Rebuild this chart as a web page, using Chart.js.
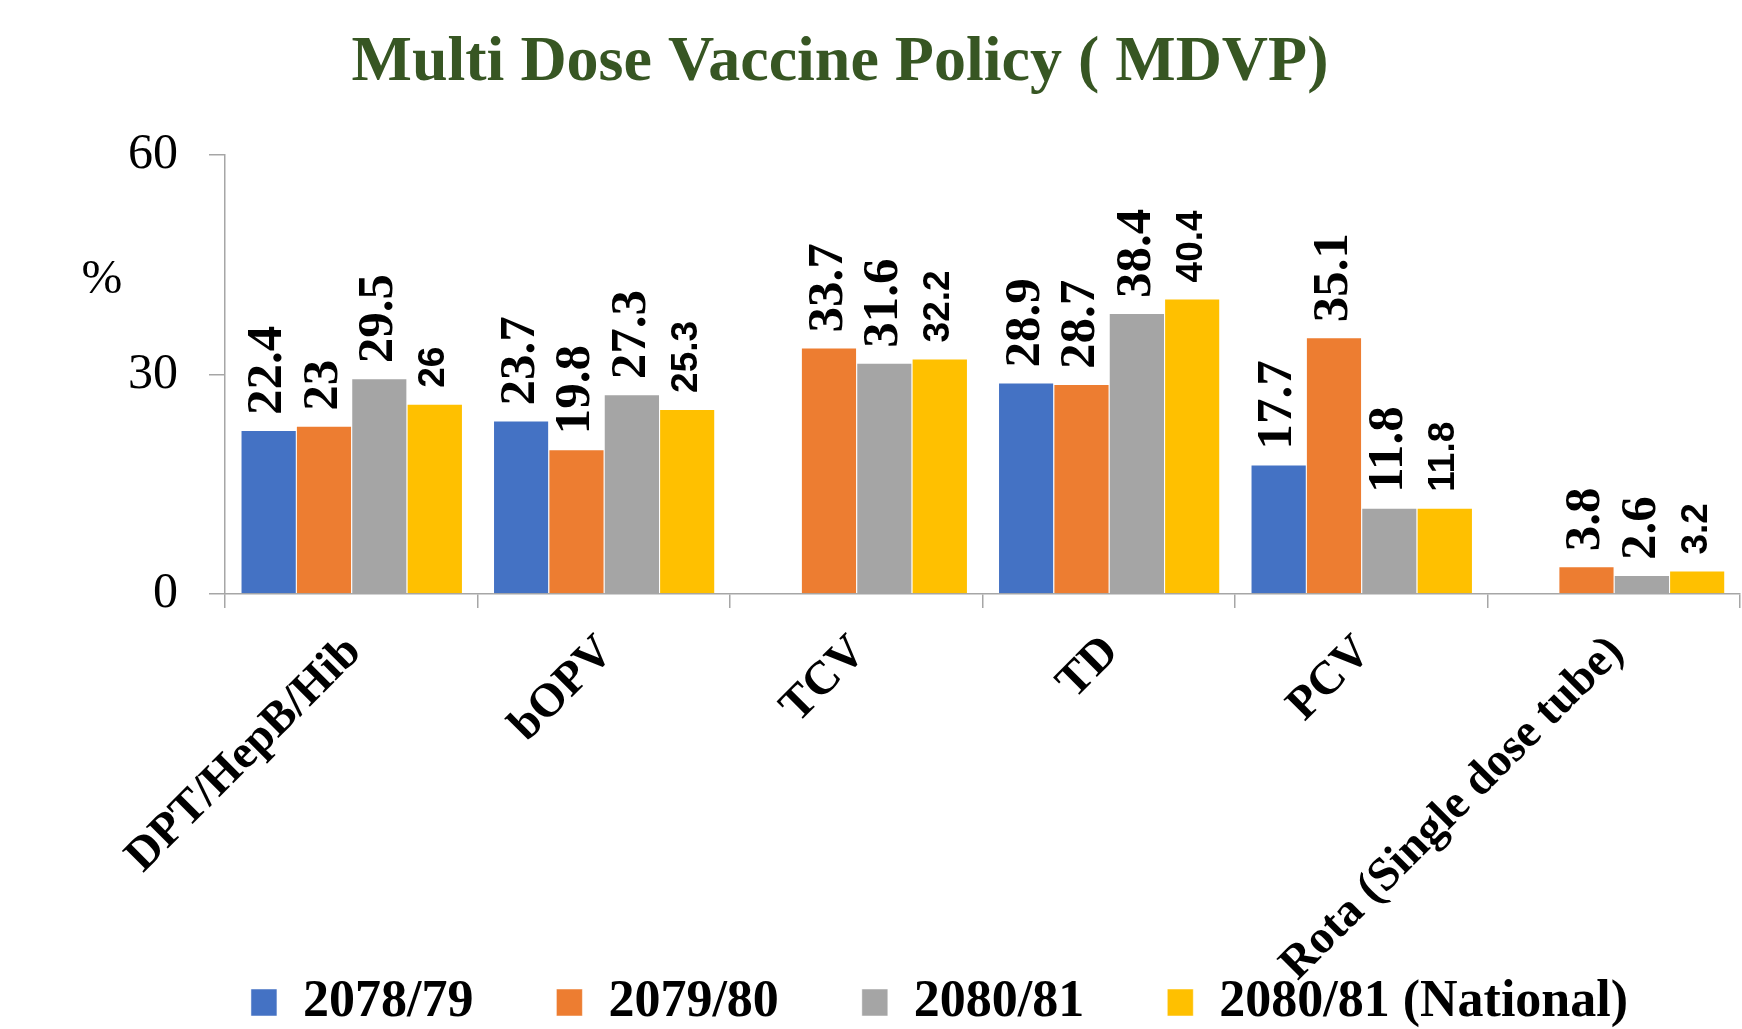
<!DOCTYPE html>
<html>
<head>
<meta charset="utf-8">
<script src="https://cdn.jsdelivr.net/npm/chart.js@4.4.1/dist/chart.umd.min.js"></script>
<style>
html,body{margin:0;padding:0;background:#fff;}
#wrap{width:1742px;height:1029px;}
canvas{display:block;}
</style>
</head>
<body>
<div id="wrap"><canvas id="c" width="1742" height="1029"></canvas></div>
<script>
const chartTitle = 'Multi Dose Vaccine Policy ( MDVP)';
const yAxisLabel = '%';
const categories = ['DPT/HepB/Hib', 'bOPV', 'TCV', 'TD', 'PCV', 'Rota (Single dose tube)'];
const seriesNames = ['2078/79', '2079/80', '2080/81', '2080/81 (National)'];
const s2078_79 = [22.4, 23.7, null, 28.9, 17.7, null];
const s2079_80 = [23, 19.8, 33.7, 28.7, 35.1, 3.8];
const s2080_81 = [29.5, 27.3, 31.6, 38.4, 11.8, 2.6];
const s2080_81nat = [26, 25.3, 32.2, 40.4, 11.8, 3.2];
const yTicks = [0, 30, 60];

const seriesColors = ['#4472C4', '#ED7D31', '#A5A5A5', '#FFC000'];
const serif = "'Liberation Serif', 'Times New Roman', serif";
const sans = "'Liberation Sans', Arial, sans-serif";
const labelFonts = ['bold 51px ' + serif, 'bold 51px ' + serif, 'bold 51px ' + serif, 'bold 37px ' + sans];
const labelGaps = [15, 15, 15, 16];

const seriesData = [s2078_79, s2079_80, s2080_81, s2080_81nat];

const datasets = seriesData.map((d, i) => ({
  label: seriesNames[i],
  data: d,
  backgroundColor: seriesColors[i],
  borderColor: '#ffffff',
  borderWidth: {top: 1, left: 1, right: 0, bottom: 0},
  categoryPercentage: 0.877,
  barPercentage: 1.0,
  labelFont: labelFonts[i],
  labelGap: labelGaps[i]
}));

const barLabels = {
  id: 'barLabels',
  afterDatasetsDraw(chart) {
    const ctx = chart.ctx;
    chart.data.datasets.forEach((ds, di) => {
      const meta = chart.getDatasetMeta(di);
      meta.data.forEach((bar, i) => {
        const v = ds.data[i];
        if (v === null || v === undefined) return;
        ctx.save();
        ctx.translate(bar.x, bar.y - ds.labelGap);
        ctx.rotate(-Math.PI / 2);
        ctx.font = ds.labelFont;
        ctx.fillStyle = '#000';
        ctx.textAlign = 'left';
        ctx.textBaseline = 'middle';
        ctx.fillText(String(v), 0, 0);
        ctx.restore();
      });
    });
  }
};

const catLabels = {
  id: 'catLabels',
  afterDraw(chart) {
    const xs = chart.scales.x;
    const ctx = chart.ctx;
    categories.forEach((c, i) => {
      ctx.save();
      ctx.font = 'bold 47px ' + serif;
      ctx.fillStyle = '#000';
      ctx.textAlign = 'right';
      ctx.textBaseline = 'middle';
      ctx.translate(xs.getPixelForValue(i) + 3, xs.top + 51);
      ctx.rotate(-Math.PI / 4);
      ctx.fillText(c, 0, 0);
      ctx.restore();
    });
  }
};

const percentLabel = {
  id: 'percentLabel',
  afterDraw(chart) {
    const ctx = chart.ctx;
    const a = chart.chartArea;
    ctx.save();
    ctx.font = '49px ' + serif;
    ctx.fillStyle = '#000';
    ctx.textAlign = 'center';
    ctx.textBaseline = 'middle';
    ctx.fillText(yAxisLabel, a.left - 123, a.top + 125);
    ctx.restore();
  }
};

const blockShift = {
  id: 'blockShift',
  afterLayout(chart) {
    const t = chart.titleBlock;
    if (t) { t.left -= 94; t.right -= 94; }
    const l = chart.legend;
    if (l) { l.left += 5.5; l.right += 5.5; }
  }
};

new Chart(document.getElementById('c'), {
  type: 'bar',
  data: { labels: categories, datasets: datasets },
  options: {
    responsive: false,
    animation: false,
    devicePixelRatio: 1,
    layout: { padding: { left: 128, right: 2, top: 0, bottom: 0 } },
    plugins: {
      title: {
        display: true,
        text: chartTitle,
        color: '#375623',
        font: { family: serif, size: 64, weight: 'bold' },
        padding: { top: 25, bottom: 53.2 }
      },
      legend: {
        position: 'bottom',
        maxHeight: 135.5,
        labels: {
          boxWidth: 26,
          boxHeight: 27,
          padding: 83,
          color: '#000',
          font: { family: serif, size: 52, weight: 'bold' }
        }
      },
      tooltip: { enabled: false }
    },
    scales: {
      x: {
        offset: true,
        grid: { display: true, offset: true, drawOnChartArea: false, drawTicks: true, tickLength: 14, color: '#A6A6A6', lineWidth: 1.5 },
        border: { display: true, color: '#A6A6A6', width: 1.5 },
        ticks: { display: false },
        afterFit(s) { s.height = 299.5; }
      },
      y: {
        min: 0, max: 60,
        afterBuildTicks(s) { s.ticks = yTicks.map(v => ({ value: v })); },
        grid: { drawOnChartArea: false, drawTicks: true, tickLength: 16, color: '#A6A6A6', lineWidth: 1.5 },
        border: { display: true, color: '#A6A6A6', width: 1.5 },
        ticks: { padding: 31, color: '#000', font: { family: serif, size: 50 } },
        afterFit(s) { s.width = 97; }
      }
    }
  },
  plugins: [barLabels, catLabels, percentLabel, blockShift]
});
</script>
</body>
</html>
